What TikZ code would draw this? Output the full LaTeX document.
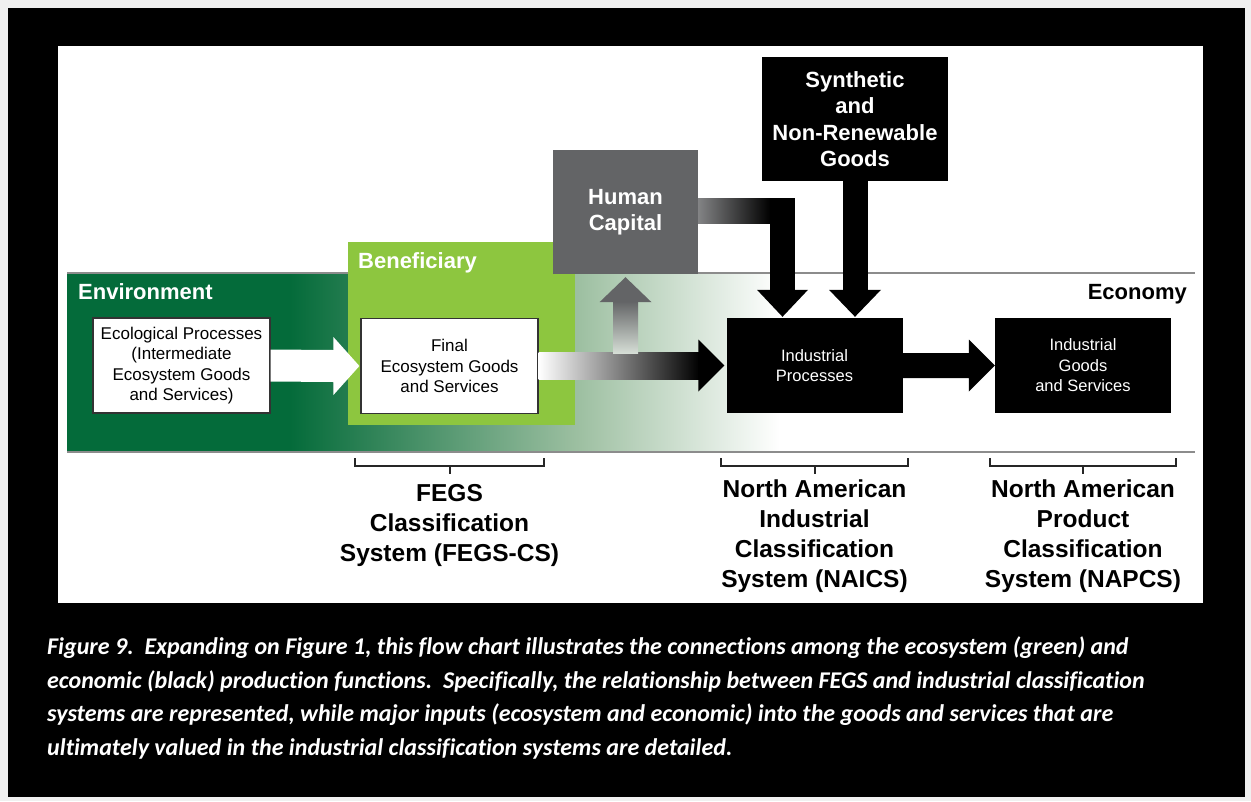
\documentclass[tikz,border=0pt]{standalone}
\usepackage{fontspec}
\setmainfont{Liberation Sans}
\newfontfamily\captionfont[Ligatures=NoCommon]{Carlito}
\usetikzlibrary{positioning}
\usetikzlibrary{calc}
\definecolor{envgreen}{RGB}{4,107,58}
\definecolor{benefgreen}{RGB}{141,198,63}
\definecolor{hcgray}{RGB}{99,100,102}
\definecolor{bandmid}{RGB}{158,192,162}
\definecolor{bandlight}{RGB}{214,222,214}
\definecolor{linegray}{RGB}{140,140,140}
\definecolor{bggray}{RGB}{240,240,240}
\tikzset{box/.style={rectangle, inner sep=0pt, align=center}}
\tikzset{whitebox/.style={box, fill=white, draw=black!80, line width=1.2pt, minimum width=177pt, minimum height=95pt, font=\fontsize{17}{20.5}\selectfont}}
\tikzset{blackbox/.style={box, fill=black, text=white, minimum width=176pt, minimum height=95pt, font=\fontsize{16.5}{20.5}\selectfont}}
\tikzset{inputbox/.style={box, text=white, font=\bfseries\fontsize{22}{26.5}\selectfont}}
\tikzset{title/.style={font=\bfseries\fontsize{22}{26.5}\selectfont, text=white, inner sep=0pt}}
\tikzset{classlabel/.style={font=\bfseries\fontsize{24.5}{30}\selectfont, align=center, inner sep=0pt, anchor=north}}
\tikzset{bracket/.style={draw=black!85, line width=2pt}}
\tikzset{bandline/.style={draw=linegray, line width=1.5pt}}
\tikzset{caption/.style={anchor=north west, inner sep=0pt, align=left, text=white, font=\captionfont\bfseries\itshape\fontsize{24}{33.5}\selectfont}}

\begin{document}
\begin{tikzpicture}[x=1pt, y=-1pt]
    % ------- Frame ------- %
    \useasboundingbox (0,0) rectangle (1251,801);
    \fill[bggray] (0,0) rectangle (1251,801);
    \fill[black] (8,8) rectangle (1245,797);
    \fill[white] (58,46) rectangle (1203,603);

    % ------- Start Environment band ------- %
    \fill[envgreen] (67,273) rectangle (290,452);
    \shade[left color=envgreen, right color=bandmid] (290,273) rectangle (580,452);
    \shade[left color=bandmid, right color=white] (580,273) rectangle (780,452);
    \draw[bandline] (67,273) -- (1195,273);
    \draw[bandline] (67,452) -- (1195,452);

    \node [title, anchor=base west] (envtitle) at (78,299) {Environment};
    \node [title, anchor=base east, text=black] (ecotitle) at (1187,299) {Economy};

    \node [box, fill=benefgreen, minimum width=227pt, minimum height=183pt] (benef) at (461.5,333.5) {};
    \node [title, anchor=base west] (beneftitle) at (358,268) {Beneficiary};

    \node [whitebox] (eco) at (181.5,365.5) {Ecological Processes\\(Intermediate\\Ecosystem Goods\\and Services)};
    \node [whitebox] (final) at (449.5,366) {Final\\Ecosystem Goods\\and Services};
    % ------- End Environment band ------- %

    % ------- Start Economy ------- %
    \node [inputbox, fill=hcgray, minimum width=145pt, minimum height=124pt] (hc) at (625.5,212) {Human\\Capital};
    \node [inputbox, fill=black, minimum width=186pt, minimum height=124pt] (synth) at (855,119) {Synthetic\\and\\Non-Renewable\\Goods};

    \node [blackbox] (indproc) at (814.5,365.5) {Industrial\\Processes};
    \node [blackbox] (goods) at (1083,365.5) {Industrial\\Goods\\and Services};
    % ------- End Economy ------- %

    % The arrow from the ecological processes to the final goods.
    \fill[white] ($(eco.east)+(0,-16)$) -- ($(final.west)+(-27,-16)$) -- ($(final.west)+(-27,-29)$)
        -- ($(final.west)+(-1,0)$) -- ($(final.west)+(-27,29)$) -- ($(final.west)+(-27,16)$)
        -- ($(eco.east)+(0,16)$) -- cycle;

    % The arrow from the final goods to the industrial processes.
    \shade[left color=white, right color=black] ($(final.east)+(0,-13.5)$) rectangle ($(indproc.west)+(-27,13.5)$);
    \fill[black] ($(indproc.west)+(-28,-26)$) -- ($(indproc.west)+(-2,0)$) -- ($(indproc.west)+(-28,26)$) -- cycle;

    % The arrow from the final goods up to the human capital.
    \shade[top color=hcgray, bottom color=bandlight] ($(hc.south)+(-12.5,27)$) rectangle ($(hc.south)+(12.5,79)$);
    \fill[hcgray] ($(hc.south)+(-26,28)$) -- ($(hc.south)+(0,3)$) -- ($(hc.south)+(26,28)$) -- cycle;

    % The arrow from the human capital to the industrial processes.
    \shade[left color=hcgray!80, right color=black] ($(hc.east)+(0,-14)$) rectangle ($(hc.east -| indproc.north)+(-44,11)$);
    \fill[black] ($(hc.east -| indproc.north)+(-44.5,-14)$) rectangle ($(indproc.north)+(-19.5,-27)$);
    \fill[black] ($(indproc.north)+(-57.5,-28)$) -- ($(indproc.north)+(-32,-1)$) -- ($(indproc.north)+(-6.5,-28)$) -- cycle;

    % The arrow from the synthetic goods to the industrial processes.
    \fill[black] ($(synth.south)+(-12.5,0)$) rectangle ($(synth.south |- indproc.north)+(12.5,-27)$);
    \fill[black] ($(synth.south |- indproc.north)+(-26,-28)$) -- ($(synth.south |- indproc.north)+(0,-1)$)
        -- ($(synth.south |- indproc.north)+(26,-28)$) -- cycle;

    % The arrow from the industrial processes to the industrial goods.
    \fill[black] ($(indproc.east)+(0,-12.5)$) -- ($(goods.west)+(-26,-12.5)$) -- ($(goods.west)+(-26,-26)$)
        -- (goods.west) -- ($(goods.west)+(-26,26)$) -- ($(goods.west)+(-26,12.5)$)
        -- ($(indproc.east)+(0,12.5)$) -- cycle;

    % ------- Start Classification systems ------- %
    \coordinate (brk) at (0,466);
    \foreach \b/\l in {final/fegs, indproc/naics, goods/napcs} {
        \draw [bracket] ($(\b.west |- brk)+(-5,-8)$) -- ($(\b.west |- brk)+(-5,0)$)
            -- ($(\b.east |- brk)+(5,0)$) -- ($(\b.east |- brk)+(5,-8)$);
        \draw [bracket] (\b |- brk) -- ($(\b |- brk)+(0,8)$) coordinate (\l tick);
    }
    \node [classlabel] (fegs) at ($(fegstick)+(0,10)$) {FEGS\\Classification\\System (FEGS-CS)};
    \node [classlabel] (naics) at ($(naicstick)+(0,6)$) {North American\\Industrial\\Classification\\System (NAICS)};
    \node [classlabel] (napcs) at ($(napcstick)+(0,6)$) {North American\\Product\\Classification\\System (NAPCS)};
    % ------- End Classification systems ------- %

    % The figure caption.
    \node [caption] (cap) at (47,637) {Figure 9.\ \ Expanding on Figure 1, this flow chart illustrates the connections among the ecosystem (green) and\\
        economic (black) production functions.\ \ Specifically, the relationship between FEGS and industrial classification\\
        systems are represented, while major inputs (ecosystem and economic) into the goods and services that are\\
        ultimately valued in the industrial classification systems are detailed.};
\end{tikzpicture}
\end{document}
